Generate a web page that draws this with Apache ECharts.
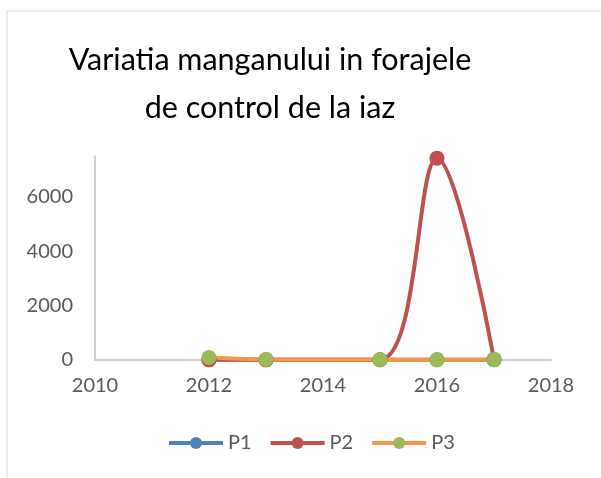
<!DOCTYPE html>
<html>
<head>
<meta charset="utf-8">
<script src="https://cdn.jsdelivr.net/npm/echarts@6/dist/echarts.min.js"></script>
<style>
html, body { margin: 0; padding: 0; background: #fff; }
#main { width: 601px; height: 478px; }
</style>
</head>
<body>
<div id="main"></div>
<script>
// date (estimari)
var years = [2012, 2013, 2015, 2016, 2017];
var p1 = [20, 10, 10, 10, 10];
var p2 = [5, 5, 10, 7420, 20];
var p3 = [90, 20, 10, 5, 10];
var yTicks = [0, 2000, 4000, 6000];

function pairs(xs, ys) {
	var out = [];
	for (var i = 0; i < xs.length; i++) out.push([xs[i], ys[i]]);
	return out;
}

var myChart = echarts.init(document.getElementById('main'));

var option = {
	animation: false,
	textStyle: { fontFamily: 'Lato' },
	title: {
		text: 'Variatia manganului in forajele\nde control de la iaz',
		left: 265,
		textAlign: 'center',
		top: 31,
		textStyle: {
			fontFamily: 'Lato',
			fontSize: 30.5,
			fontWeight: 'normal',
			color: '#000',
			lineHeight: 48
		}
	},
	graphic: [{
		type: 'rect',
		shape: { x: 7, y: 11, width: 620, height: 500 },
		style: { fill: 'none', stroke: '#D9D9D9', lineWidth: 1 },
		silent: true
	}],
	grid: {
		left: 95,
		right: 50,
		top: 156,
		bottom: 118
	},
	legend: {
		bottom: 20,
		left: 162,
		itemWidth: 54,
		itemHeight: 15,
		itemGap: 17,
		lineStyle: { width: 4 },
		textStyle: { fontSize: 20, color: '#595959', fontFamily: 'Lato' },
		data: ['P1', 'P2', 'P3']
	},
	xAxis: {
		type: 'value',
		min: 2010,
		max: 2018,
		interval: 2,
		splitLine: { show: false },
		axisTick: { show: false },
		axisLine: { lineStyle: { color: '#BFBFBF', width: 1.5 } },
		axisLabel: {
			fontSize: 20,
			color: '#595959',
			margin: 16,
			formatter: function(v) { return String(v); }
		}
	},
	yAxis: {
		type: 'value',
		min: 0,
		max: 7500,
		interval: 2000,
		splitLine: { show: false },
		axisTick: { show: false },
		axisLine: { show: true, lineStyle: { color: '#BFBFBF', width: 1.5 } },
		axisLabel: {
			fontSize: 20,
			color: '#595959',
			margin: 22,
			showMaxLabel: false,
			formatter: function(v) { return yTicks.indexOf(v) >= 0 ? String(v) : ''; }
		}
	},
	series: [
		{
			name: 'P1',
			type: 'line',
			smooth: 0.5,
			symbol: 'circle',
			symbolSize: 15,
			color: '#4F81BD',
			lineStyle: { width: 4, color: '#4F81BD' },
			itemStyle: { color: '#4F81BD' },
			data: pairs(years, p1)
		},
		{
			name: 'P2',
			type: 'line',
			smooth: 0.35,
			symbol: 'circle',
			symbolSize: 15,
			color: '#C0504D',
			lineStyle: { width: 4, color: '#C0504D' },
			itemStyle: { color: '#C0504D' },
			data: pairs(years, p2)
		},
		{
			name: 'P3',
			type: 'line',
			smooth: 0.5,
			symbol: 'circle',
			symbolSize: 15,
			color: '#F79646',
			lineStyle: { width: 4, color: '#F79646' },
			itemStyle: { color: '#9BBB59' },
			data: pairs(years, p3)
		}
	]
};

myChart.setOption(option);
</script>
</body>
</html>
